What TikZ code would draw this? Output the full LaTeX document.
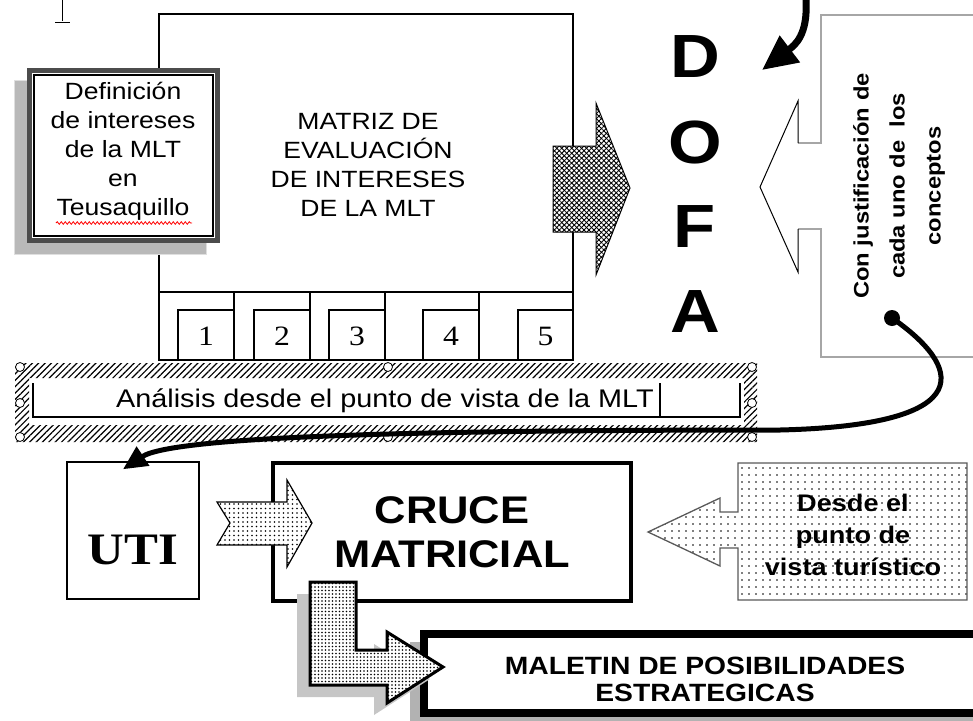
\documentclass[tikz,border=0pt]{standalone}
\usepackage{fontspec}
\setmainfont{Liberation Sans}[FakeStretch=1.13]
\newfontfamily\numfont{Liberation Serif}[FakeStretch=1.13]
\usetikzlibrary{arrows.meta,patterns.meta,decorations.pathmorphing}

\begin{document}
\begin{tikzpicture}[x=1pt, y=-1pt,
    sansbox/.style={align=center, font=\fontsize{23.5}{29}\selectfont},
    dofa/.style={font=\bfseries\fontsize{61}{61}\selectfont},
    handle/.style={circle, draw, fill=white, line width=0.8pt, inner sep=0pt, minimum size=9pt},
    hatched/.style={pattern={Lines[angle=45,distance=4.5pt,line width=1.2pt]}},
    crosshatched/.style={preaction={fill=white}, pattern={Lines[angle=45,distance=3.5pt,line width=0.9pt]},
        postaction={pattern={Lines[angle=-45,distance=3.5pt,line width=0.9pt]}}},
    densedots/.style={preaction={fill=white}, pattern={Dots[distance=3.5pt,radius=0.9pt]}},
    middots/.style={preaction={fill=white}, pattern={Dots[distance=4.5pt,radius=0.9pt]}},
    sparsedots/.style={preaction={fill=white}, pattern={Dots[distance=7pt,radius=0.8pt]}}]
    \useasboundingbox (0,0) rectangle (973,720);
    \clip (0,0) rectangle (973,720);

    % Text cursor mark
    \draw[line width=1pt] (62,0) -- (62,21) (55,22) -- (70,22);

    % Evaluation matrix with its five columns
    \draw[line width=1.5pt] (159,14) rectangle (573,360);
    \draw[line width=1.5pt] (159,292) -- (573,292);
    \foreach \x in {234,310,385,479}
        \draw[line width=1.5pt] (\x,292) -- (\x,360);
    \foreach \xa/\xb/\k in {178/234/1, 254/310/2, 329/385/3, 423/479/4, 518/573/5}{
        \draw[line width=1.5pt] (\xa,360) -- (\xa,310) -- (\xb,310);
        \node[font=\numfont\fontsize{28}{28}\selectfont] (num\k) at ({(\xa+\xb)/2},336) {\k};
    }
    \node[sansbox] (matriz) at (368,165) {MATRIZ DE\\EVALUACIÓN\\DE INTERESES\\DE LA MLT};

    % Definition box (framed, with shadow)
    \fill[gray!55, draw=gray!25, line width=1pt] (14,80) rectangle (206,254);
    \fill[black!70] (27,68) rectangle (220,243);
    \fill[white] (32,73) rectangle (215,238);
    \draw[line width=2pt] (34,75) rectangle (213,236);
    \node[sansbox] (defin) at (123,151) {Definición\\de intereses\\de la MLT\\en\\Teusaquillo};
    \draw[red, line width=0.8pt, decorate, decoration={snake, amplitude=1.3pt, segment length=4pt}] (56,223) -- (192,223);

    % Block arrow into DOFA
    \draw[crosshatched, line width=1pt] (553,146) -- (596,146) -- (596,103) -- (630,188)
        -- (596,275) -- (596,232) -- (553,232) -- cycle;

    % DOFA letters
    \foreach \letter/\y in {D/57, O/142, F/227, A/312}
        \node[dofa] (dofa\letter) at (695,\y) {\letter};

    % Arrow coming from above
    \coordinate (above) at (806,0);
    \draw[line width=7pt, -{Triangle[length=35pt,width=32pt]}] (above) .. controls (808,35) and (795,45) .. (762,70);

    % Callout with the justification
    \fill[white] (980,15) -- (821,15) -- (821,143) -- (798,143) -- (798,101) -- (760,187)
        -- (798,272) -- (798,229) -- (821,229) -- (821,357) -- (980,357) -- cycle;
    \draw[gray!70, line width=2.5pt] (980,15) -- (821,15) -- (821,143) -- (798,143);
    \draw[gray!70, line width=2.5pt] (798,229) -- (821,229) -- (821,357) -- (980,357);
    \draw[line width=1pt] (798,143) -- (798,101) -- (760,187) -- (798,272) -- (798,229);
    \node[rotate=90, align=center, font=\bfseries\fontsize{21}{36}\selectfont] (justif) at (899,186)
        {Con justificación de\\cada uno de~ los\\conceptos};

    % Selected text box (hatched frame and handles)
    \fill[hatched, even odd rule] (15,363) rectangle (757,442) (29,378) rectangle (744,425);
    \draw[line width=2.5pt] (33,383) -- (33,417) -- (740,417) -- (740,383);
    \draw[line width=2pt] (660,383) -- (660,417);
    \node[font=\fontsize{25.5}{25.5}\selectfont] (analisis) at (385,401) {Análisis desde el punto de vista de la MLT};
    \foreach \x/\y in {20/367, 388/367, 752/367, 20/403, 752/403, 20/437, 388/437, 752/437}
        \node[handle] (h\x\y) at (\x,\y) {};

    % UTI
    \node[draw, line width=1.5pt, minimum width=132pt, minimum height=137pt] (uti) at (133,530.5) {};
    \node[font=\numfont\bfseries\fontsize{45}{45}\selectfont] (utitext) at (133,550) {UTI};

    % Connector from the callout to UTI
    \node[circle, fill, inner sep=0pt, minimum size=16pt] (dot) at (892,318) {};
    \draw[line width=5pt, -{Triangle[length=24pt,width=22pt]}] (dot.center)
        .. controls (960,365) and (985,425) .. (780,430)
        .. controls (450,430) and (175,435) .. ([xshift=-10pt,yshift=-8pt]uti.north);

    % Cross matrix
    \node[draw, line width=3.5pt, minimum width=358pt, minimum height=138pt, align=center,
        font=\bfseries\fontsize{38.5}{44}\selectfont] (cruce) at (452,532) {CRUCE\\MATRICIAL};
    \draw[middots, line width=1.2pt] (217,502) -- (287,502) -- (287,480) -- (312,523)
        -- (287,567) -- (287,545) -- (217,545) -- (230,523) -- cycle;

    % Tourist point of view callout
    \draw[sparsedots, draw=gray!70!black, line width=1.3pt] (738,463) -- (967,463) -- (967,600) -- (738,600)
        -- (738,548) -- (720,548) -- (720,566) -- (648,532) -- (720,498) -- (720,512) -- (738,512) -- cycle;
    \node[align=center, font=\bfseries\fontsize{24}{32}\selectfont] (desde) at (853,535)
        {Desde el\\punto de\\vista turístico};

    % Strategic options box
    \fill[gray!60] (410,642) rectangle (990,730);
    \draw[line width=8pt, fill=white] (424,634) rectangle (1000,713);
    \node[align=center, font=\bfseries\fontsize{25}{27}\selectfont] (maletin) at (705,679)
        {MALETIN DE POSIBILIDADES\\ESTRATEGICAS};

    % Bent arrow with shadow
    \def\bentarrow{(310,582) -- (356,582) -- (356,650) -- (387,650) -- (387,632) -- (443,667)
        -- (387,703) -- (387,685) -- (310,685) -- cycle}
    \fill[gray!45, shift={(-13,12)}] \bentarrow;
    \draw[densedots, line width=3pt] \bentarrow;
\end{tikzpicture}
\end{document}
